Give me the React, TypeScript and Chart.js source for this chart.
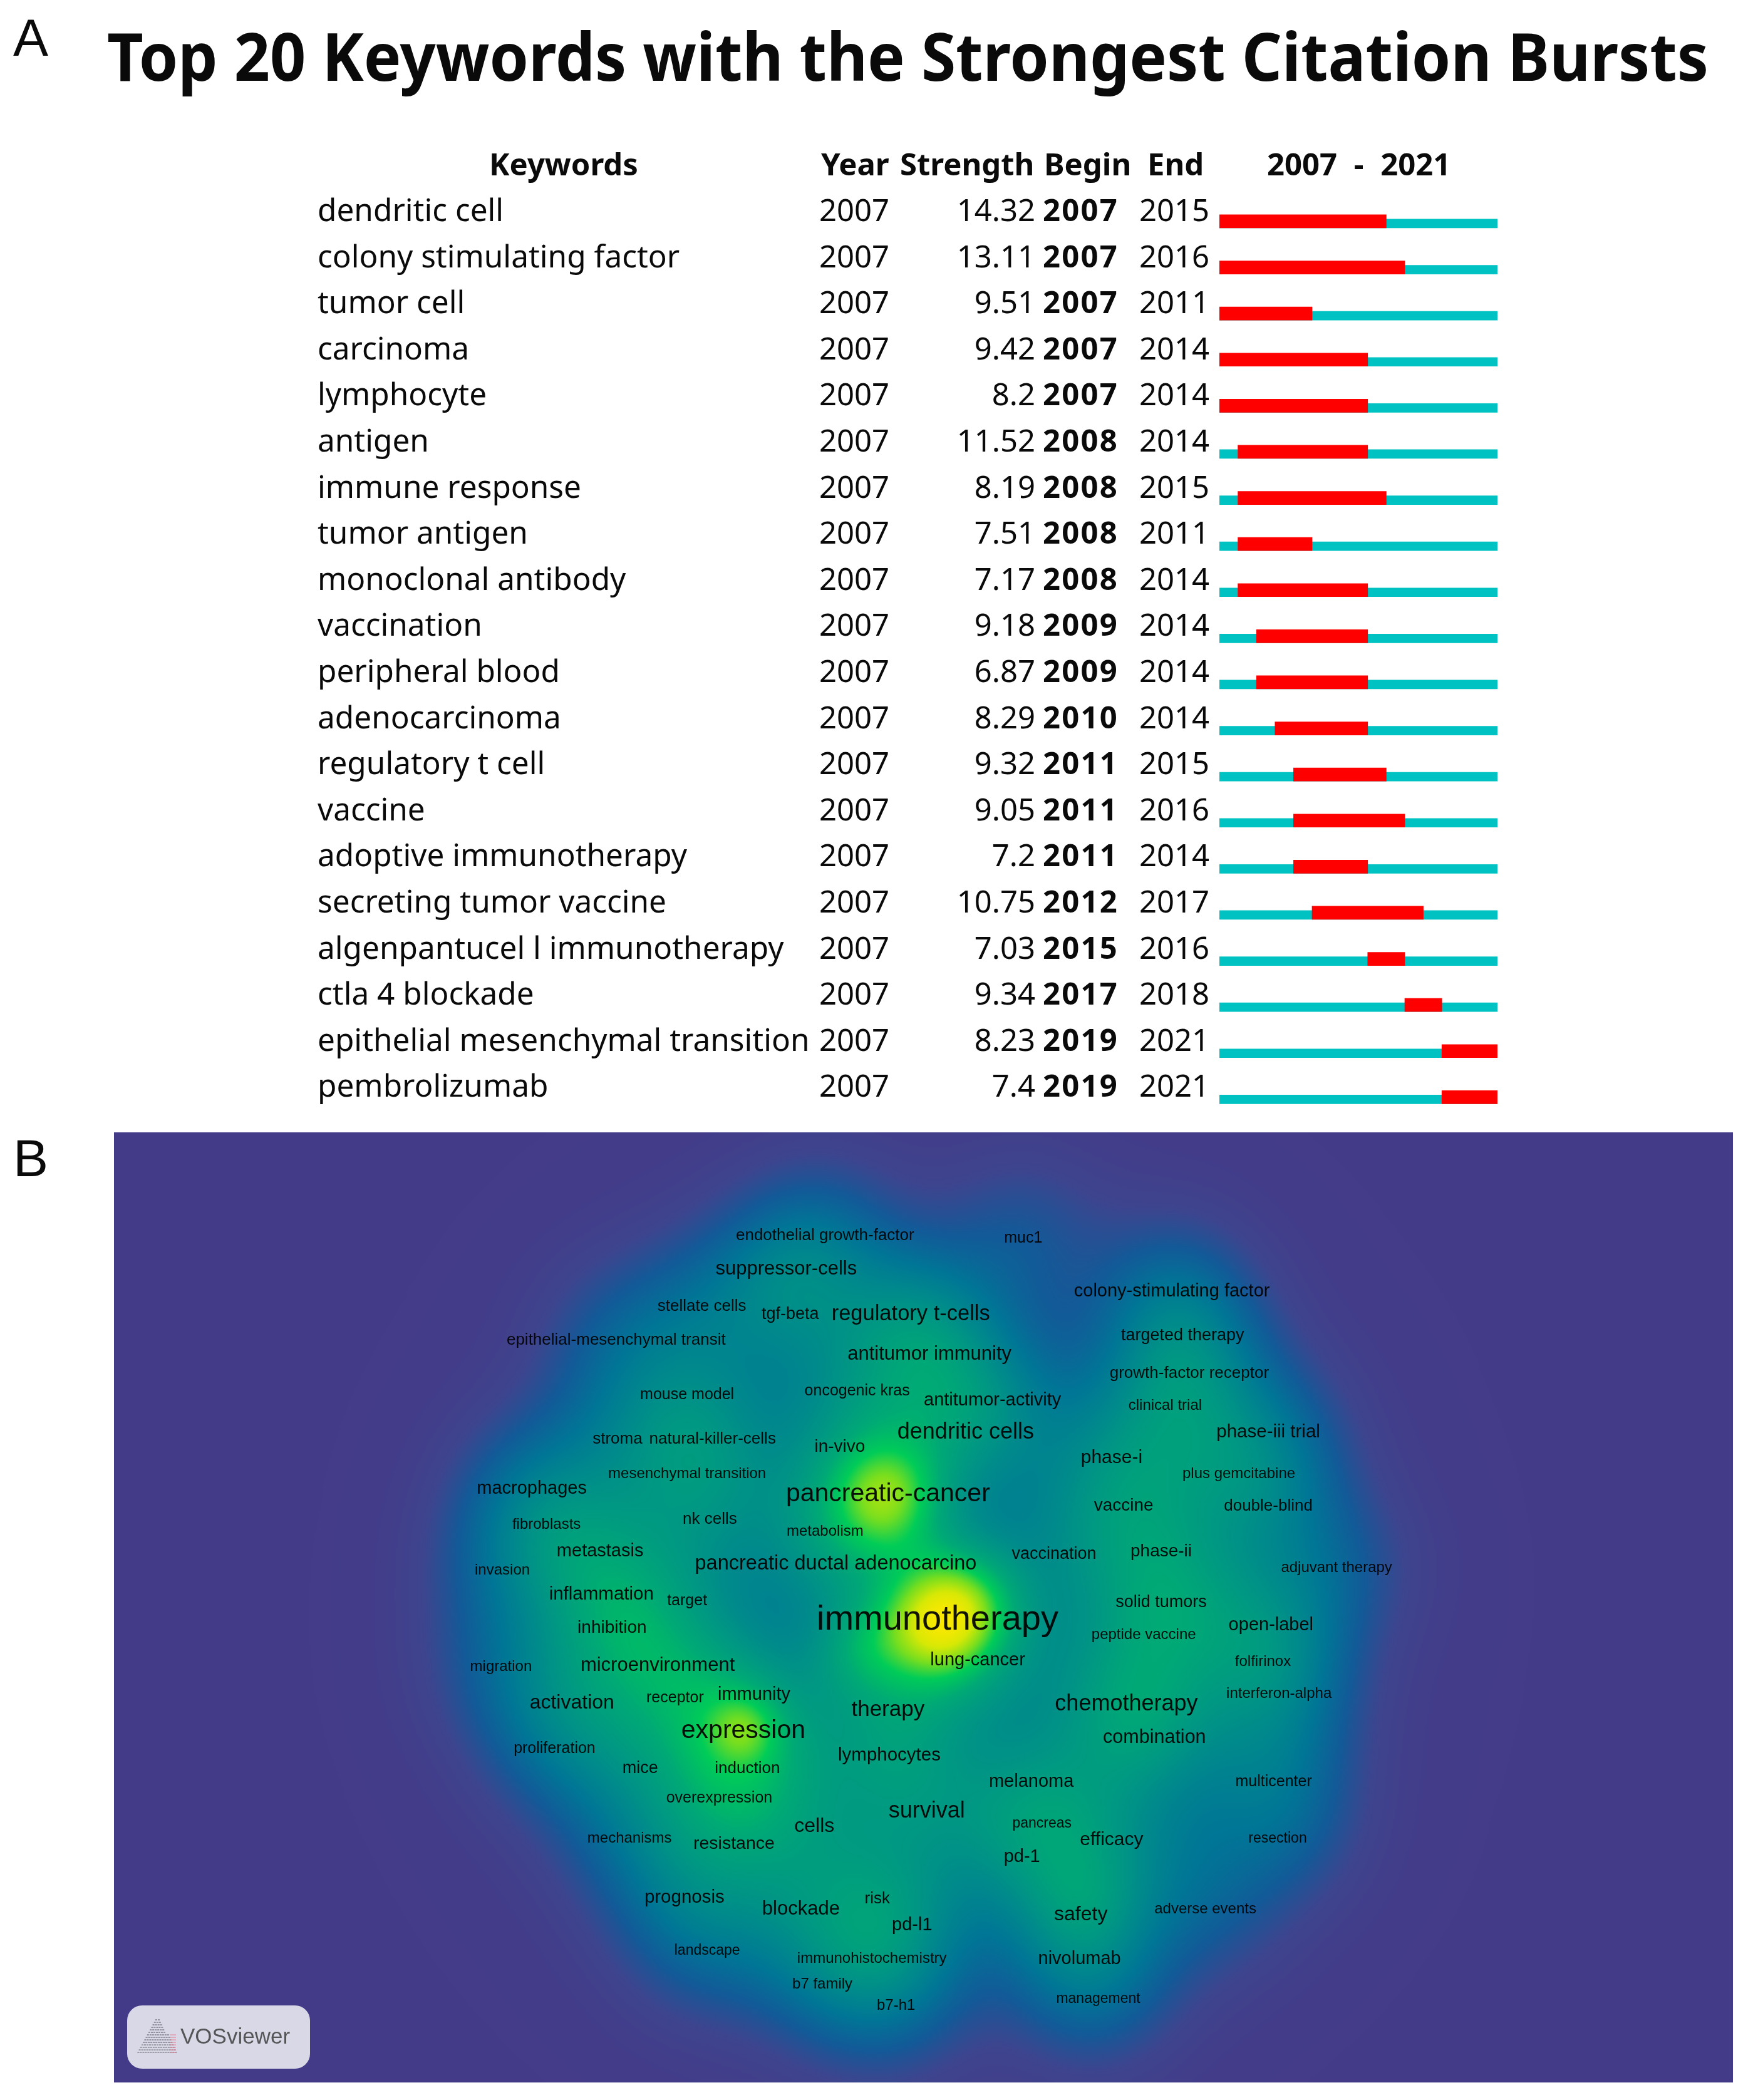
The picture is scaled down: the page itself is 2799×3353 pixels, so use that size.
import React, { useEffect, useRef } from "react";
import { Chart, registerables } from "chart.js";

Chart.register(...registerables);

/* ---------- Panel A: citation bursts ---------- */
const burstKeywords = [
  "dendritic cell", "colony stimulating factor", "tumor cell", "carcinoma", "lymphocyte",
  "antigen", "immune response", "tumor antigen", "monoclonal antibody", "vaccination",
  "peripheral blood", "adenocarcinoma", "regulatory t cell", "vaccine", "adoptive immunotherapy",
  "secreting tumor vaccine", "algenpantucel l immunotherapy", "ctla 4 blockade",
  "epithelial mesenchymal transition", "pembrolizumab",
];
const burstYear = [2007, 2007, 2007, 2007, 2007, 2007, 2007, 2007, 2007, 2007, 2007, 2007, 2007, 2007, 2007, 2007, 2007, 2007, 2007, 2007];
const burstStrength = ["14.32", "13.11", "9.51", "9.42", "8.2", "11.52", "8.19", "7.51", "7.17", "9.18", "6.87", "8.29", "9.32", "9.05", "7.2", "10.75", "7.03", "9.34", "8.23", "7.4"];
const burstBegin = [2007, 2007, 2007, 2007, 2007, 2008, 2008, 2008, 2008, 2009, 2009, 2010, 2011, 2011, 2011, 2012, 2015, 2017, 2019, 2019];
const burstEnd = [2015, 2016, 2011, 2014, 2014, 2014, 2015, 2011, 2014, 2014, 2014, 2014, 2015, 2016, 2014, 2017, 2016, 2018, 2021, 2021];
const firstYear = 2007;
const lastYear = 2021;
const tableHeaders = ["Keywords", "Year", "Strength", "Begin", "End", "2007 - 2021"];
const mainTitle = "Top 20 Keywords with the Strongest Citation Bursts";

/* ---------- Panel B: keyword density map (map units) ---------- */
const mapKeywords = [
  "endothelial growth-factor", "muc1", "suppressor-cells", "stellate cells", "tgf-beta", "regulatory t-cells",
  "colony-stimulating factor", "targeted therapy", "epithelial-mesenchymal transit", "antitumor immunity",
  "growth-factor receptor", "mouse model", "oncogenic kras", "antitumor-activity", "clinical trial",
  "dendritic cells", "phase-iii trial", "stroma", "natural-killer-cells", "in-vivo", "phase-i", "plus gemcitabine",
  "mesenchymal transition", "macrophages", "pancreatic-cancer", "vaccine", "double-blind", "fibroblasts", "nk cells",
  "metabolism", "metastasis", "pancreatic ductal adenocarcino", "vaccination", "phase-ii", "adjuvant therapy", "invasion",
  "inflammation", "target", "immunotherapy", "solid tumors", "inhibition", "open-label", "peptide vaccine", "lung-cancer",
  "folfirinox", "migration", "microenvironment", "interferon-alpha", "immunity", "receptor", "activation", "therapy",
  "chemotherapy", "expression", "combination", "proliferation", "lymphocytes", "mice", "induction", "melanoma",
  "multicenter", "overexpression", "survival", "pancreas", "cells", "mechanisms", "resistance", "efficacy", "resection",
  "pd-1", "prognosis", "blockade", "risk", "safety", "adverse events", "pd-l1", "landscape", "immunohistochemistry",
  "nivolumab", "b7 family", "b7-h1", "management",
];
const mapX = [
  616, 764, 587, 524, 590, 680, 875, 883, 460, 694, 888, 513, 640, 741, 870, 721, 947, 461, 532, 627, 830, 925,
  513, 397, 663, 839, 947, 408, 530, 616, 448, 624, 787, 867, 998, 375, 449, 513, 700, 867, 457, 949, 854, 730,
  943, 374, 491, 955, 563, 504, 427, 663, 841, 555, 862, 414, 664, 478, 558, 770, 951, 537, 692, 778, 608, 470,
  548, 830, 954, 763, 511, 598, 655, 807, 900, 681, 528, 651, 806, 614, 669, 820,
];
const mapY = [
  921, 923, 946, 974, 980, 980, 963, 996, 999, 1010, 1024, 1040, 1037, 1044, 1048, 1068, 1068, 1073, 1073, 1079, 1087, 1099,
  1099, 1110, 1114, 1123, 1123, 1137, 1133, 1142, 1157, 1166, 1159, 1157, 1169, 1171, 1189, 1194, 1208, 1195, 1214, 1212, 1219, 1238,
  1239, 1243, 1242, 1263, 1264, 1266, 1270, 1275, 1271, 1291, 1296, 1304, 1309, 1319, 1319, 1329, 1329, 1341, 1351, 1360, 1362, 1371,
  1375, 1372, 1371, 1385, 1415, 1424, 1416, 1428, 1424, 1436, 1455, 1461, 1461, 1480, 1496, 1491,
];
const mapWeight = [
  26, 25, 31, 26, 27, 34.5, 29, 27, 26, 31, 26, 25, 25, 29, 24, 36, 29.5, 26, 26, 28, 30, 24,
  24, 29, 41, 28, 26, 24, 26, 24, 29, 32.5, 27, 28, 24, 24, 29.5, 25, 56, 27, 28, 29, 24, 29,
  24, 24, 31, 24, 29, 25, 32, 35, 36, 41, 30.5, 25, 29.5, 27, 26, 29, 25, 25, 36, 23, 32, 24,
  28.5, 30, 23, 29, 29.5, 31, 26, 32, 24, 29, 23, 24, 29, 24, 24, 23,
];
/* density visible in the map without a label of its own: peaks, shoulder, right-hand field, central hump */
const hiddenX = [720, 695, 663, 555, 640, 850, 880, 900, 950, 870, 810, 780, 690, 690];
const hiddenY = [1195, 1215, 1118, 1290, 1232, 1290, 1080, 1200, 1300, 1380, 1420, 1250, 1000, 1200];
const hiddenWeight = [0.26, 0.24, 0.28, 0.13, 0.16, 0.08, 0.05, 0.08, 0.05, 0.05, 0.06, 0.05, 0.05, 0.15];
const hiddenSpread = [31, 31, 30, 18, 26, 43, 43, 43, 43, 43, 30, 43, 43, 170];

const mapRange = { xMin: 85, xMax: 1294, yMin: 846, yMax: 1555 };

const colorStops: [number, number[]][] = [
  [0, [68, 59, 136]],
  [0.08, [62, 68, 142]],
  [0.18, [18, 90, 152]],
  [0.3, [0, 118, 150]],
  [0.44, [0, 144, 136]],
  [0.58, [0, 168, 118]],
  [0.7, [0, 204, 88]],
  [0.8, [120, 222, 30]],
  [0.9, [215, 232, 5]],
  [1, [255, 232, 0]],
];

function colorAt(v: number): number[] {
  const t = Math.max(0, Math.min(1, v));
  for (let i = 1; i < colorStops.length; i++) {
    if (t <= colorStops[i][0]) {
      const [a, ca] = colorStops[i - 1];
      const [b, cb] = colorStops[i];
      const f = (t - a) / (b - a);
      return ca.map((c, k) => c + (cb[k] - c) * f);
    }
  }
  return colorStops[colorStops.length - 1][1];
}

const nodeStrength = (w: number) => 0.112 + 0.12 * (Math.max(0, w - 24) / 32);

const densityPlugin = {
  id: "densityMap",
  beforeDatasetsDraw(chart: any) {
    const { ctx, chartArea: area, scales } = chart;
    const step = 3;
    const W = Math.ceil(area.width / step);
    const H = Math.ceil(area.height / step);
    const grid = new Float32Array(W * H);
    const addNode = (x: number, y: number, s: number, sg: number) => {
      const reach = Math.ceil(sg * 3.6);
      const gx = (scales.x.getPixelForValue(x) - area.left) / step;
      const gy = (scales.y.getPixelForValue(y) - area.top) / step;
      const x0 = Math.max(0, Math.floor(gx - reach));
      const x1 = Math.min(W - 1, Math.ceil(gx + reach));
      const y0 = Math.max(0, Math.floor(gy - reach));
      const y1 = Math.min(H - 1, Math.ceil(gy + reach));
      for (let j = y0; j <= y1; j++) {
        for (let i = x0; i <= x1; i++) {
          const d = (i - gx) * (i - gx) + (j - gy) * (j - gy);
          grid[j * W + i] += s * Math.exp(-d / (2 * sg * sg));
        }
      }
    };
    const unit = area.width / (mapRange.xMax - mapRange.xMin) / step;
    mapX.forEach((x, i) => addNode(x, mapY[i], nodeStrength(mapWeight[i]), 43 * unit));
    hiddenX.forEach((x, i) => addNode(x, hiddenY[i], hiddenWeight[i], hiddenSpread[i] * unit));
    const off = document.createElement("canvas");
    off.width = W;
    off.height = H;
    const octx = off.getContext("2d")!;
    const img = octx.createImageData(W, H);
    for (let k = 0; k < grid.length; k++) {
      const c = colorAt(grid[k]);
      img.data[k * 4] = c[0];
      img.data[k * 4 + 1] = c[1];
      img.data[k * 4 + 2] = c[2];
      img.data[k * 4 + 3] = 255;
    }
    octx.putImageData(img, 0, 0);
    ctx.save();
    ctx.imageSmoothingEnabled = true;
    ctx.imageSmoothingQuality = "high";
    ctx.drawImage(off, area.left, area.top, area.width, area.height);
    ctx.restore();
  },
  afterDatasetsDraw(chart: any) {
    const { ctx, scales } = chart;
    ctx.save();
    ctx.textAlign = "center";
    ctx.textBaseline = "middle";
    ctx.fillStyle = "rgba(0,0,0,0.92)";
    mapKeywords.forEach((name, i) => {
      ctx.font = `${mapWeight[i]}px "Liberation Sans"`;
      ctx.fillText(name, scales.x.getPixelForValue(mapX[i]), scales.y.getPixelForValue(mapY[i]) + 4);
    });
    ctx.restore();

    // VOSviewer badge (panel-relative pixels)
    const bx = 21, by = 1394, bw = 292, bh = 101;
    ctx.save();
    ctx.fillStyle = "#d8d8e6";
    ctx.beginPath();
    ctx.roundRect(bx, by, bw, bh, 24);
    ctx.fill();
    const rows = 14;
    for (let r = 0; r < rows; r++) {
      const half = 3 + r * 2.2;
      const cy = by + 22 + r * 4;
      ctx.fillStyle = r > 9 ? "rgba(110,110,120,0.55)" : "rgba(90,90,105,0.55)";
      for (let x = -half; x < half; x += 4) ctx.fillRect(bx + 48 + x, cy, 3, 2);
      if (r > 5) {
        ctx.fillStyle = "rgba(225,130,150,0.5)";
        ctx.fillRect(bx + 68, cy, 10, 2);
      }
    }
    ctx.fillStyle = "#555558";
    ctx.font = '35px "Liberation Sans"';
    ctx.textAlign = "left";
    ctx.textBaseline = "alphabetic";
    ctx.fillText("VOSviewer", bx + 85, by + 61);
    ctx.restore();
  },
};

const tablePlugin = {
  id: "burstTable",
  afterDraw(chart: any) {
    const { ctx, scales } = chart;
    const body = '49px "Noto Sans"';
    const bold = 'bold 49px "Noto Sans"';
    ctx.save();
    ctx.fillStyle = "#0a0a0a";
    ctx.textBaseline = "alphabetic";

    ctx.font = 'bold 105px "Noto Sans"';
    ctx.textAlign = "left";
    ctx.fillText(mainTitle, 171, 129, 2557);

    ctx.font = bold;
    ctx.textAlign = "center";
    ctx.fillText(tableHeaders[0], 900, 280);
    ctx.textAlign = "left";
    ctx.fillText(tableHeaders[1], 1311, 280);
    ctx.fillText(tableHeaders[2], 1437, 280);
    ctx.fillText(tableHeaders[3], 1667, 280);
    ctx.fillText(tableHeaders[4], 1832, 280);
    ctx.wordSpacing = "14px";
    ctx.fillText(tableHeaders[5], 2023, 280);
    ctx.wordSpacing = "0px";

    burstKeywords.forEach((name, i) => {
      const y = scales.y.getPixelForValue(i) - 0.5;
      ctx.font = '49.5px "Noto Sans"';
      ctx.textAlign = "left";
      ctx.fillText(name, 507, y);
      ctx.font = body;
      ctx.fillText(String(burstYear[i]), 1308, y);
      ctx.fillText(String(burstEnd[i]), 1819, y);
      ctx.textAlign = "right";
      ctx.fillText(burstStrength[i], 1653, y);
      ctx.font = bold;
      ctx.textAlign = "left";
      ctx.letterSpacing = "2.2px";
      ctx.fillText(String(burstBegin[i]), 1665, y);
      ctx.letterSpacing = "0px";
    });
    ctx.restore();
  },
};

/* teal timeline shares the bottom edge of the taller red burst bar */
const alignBarsPlugin = {
  id: "alignBars",
  afterDatasetsUpdate(chart: any) {
    chart.getDatasetMeta(1).data.forEach((el: any) => {
      el.y += 3.5;
    });
  },
};

export default function App() {
  const topRef = useRef<HTMLCanvasElement>(null);
  const mapRef = useRef<HTMLCanvasElement>(null);

  useEffect(() => {
    const top = new Chart(topRef.current!, {
      type: "bar",
      data: {
        labels: burstKeywords,
        datasets: [
          {
            label: "Burst",
            data: burstBegin.map((b, i) => [b, burstEnd[i] + 1]),
            backgroundColor: "#ff0000",
            barThickness: 21,
            order: 0,
            grouped: false,
          },
          {
            label: "Timeline",
            data: burstBegin.map(() => [firstYear, lastYear + 1]),
            backgroundColor: "#00c2c2",
            barThickness: 14,
            order: 1,
            grouped: false,
          },
        ] as any,
      },
      options: {
        indexAxis: "y",
        responsive: false,
        animation: false,
        devicePixelRatio: 1,
        layout: { padding: { left: 1947, right: 408, top: 316.65, bottom: 11.35 } },
        plugins: { legend: { display: false }, tooltip: { enabled: false }, title: { display: false } },
        scales: {
          x: { type: "linear", min: firstYear, max: lastYear + 1, display: false },
          y: { type: "category", display: false },
        },
      },
      plugins: [alignBarsPlugin, tablePlugin],
    });

    const map = new Chart(mapRef.current!, {
      type: "scatter",
      data: {
        datasets: [
          {
            label: "Keywords",
            data: mapX.map((x, i) => ({ x, y: mapY[i] })),
            pointRadius: 0,
          },
        ],
      },
      options: {
        responsive: false,
        animation: false,
        devicePixelRatio: 1,
        layout: { padding: 0 },
        plugins: { legend: { display: false }, tooltip: { enabled: false } },
        scales: {
          x: { type: "linear", min: mapRange.xMin, max: mapRange.xMax, display: false },
          y: { type: "linear", min: mapRange.yMin, max: mapRange.yMax, reverse: true, display: false },
        },
      },
      plugins: [densityPlugin],
    });

    return () => {
      top.destroy();
      map.destroy();
    };
  }, []);

  const letter: React.CSSProperties = {
    position: "absolute",
    left: 21,
    font: '84px/84px "Liberation Sans"',
    color: "#0a0a0a",
  };
  const soft = "blur(0.7px)";

  return (
    <div style={{ position: "absolute", left: 0, top: 0, width: 2799, height: 3353, background: "#fff", overflow: "hidden" }}>
      <canvas ref={topRef} width={2799} height={1800} style={{ position: "absolute", left: 0, top: 0, width: 2799, height: 1800, filter: soft }} />
      <canvas ref={mapRef} width={2585} height={1517} style={{ position: "absolute", left: 182, top: 1808, width: 2585, height: 1517, filter: soft }} />
      <span style={{ ...letter, top: 18 }}>A</span>
      <span style={{ ...letter, top: 1807 }}>B</span>
    </div>
  );
}
